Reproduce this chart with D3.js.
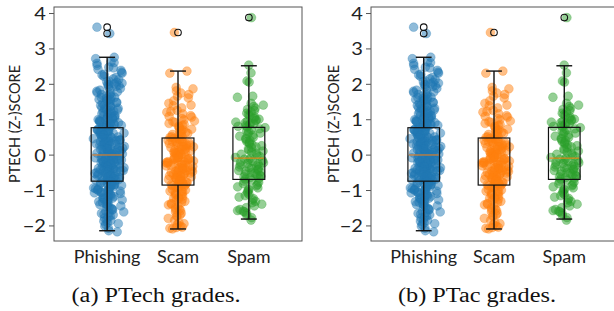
<!DOCTYPE html>
<html><head><meta charset="utf-8">
<script src="https://cdn.jsdelivr.net/npm/d3@7"></script>
<style>html,body{margin:0;padding:0;background:#fff;}svg{display:block;}</style>
</head><body>
<svg id="c" width="614" height="311"></svg>
<script>
// ---------- data ----------
const categories = ["Phishing", "Scam", "Spam"];
const colors = ["#1f77b4", "#ff7f0e", "#2ca02c"];
const yTicks = [-2, -1, 0, 1, 2, 3, 4];
const yLabel = "PTECH (Z-)SCORE";
const captions = ["(a) PTech grades.", "(b) PTac grades."];

// box statistics: [whiskerLow, q1, median, q3, whiskerHigh]
const phishingBox = [-2.15, -0.75, -0.01, 0.76, 2.75];
const scamBox = [-2.10, -0.86, -0.19, 0.47, 2.36];
const spamBox = [-1.82, -0.70, -0.10, 0.77, 2.51];
const phishingFliers = [3.42, 3.60];
const scamFliers = [3.45];
const spamFliers = [3.87];

const phishingValues = [
3.60, 3.42,
2.75, 2.71, 2.62, 2.58, 2.60, 2.52, 2.47, 2.41, 2.38, 2.33, 2.30, 2.27, 2.21, 2.18, 2.14, 2.08, 2.06, 2.04, 2.02, 1.98, 1.97, 1.95,
1.91, 1.87, 1.84, 1.79, 1.77, 1.73, 1.69, 1.66, 1.63, 1.61, 1.58, 1.56, 1.52, 1.51, 1.48, 1.44, 1.43, 1.40, 1.37, 1.36, 1.33, 1.29,
1.28, 1.25, 1.23, 1.21, 1.19, 1.16, 1.15, 1.12, 1.10, 1.09, 1.06, 1.05, 1.03, 1.02, 1.01, 0.99,
0.97, 0.96, 0.94, 0.92, 0.90, 0.88, 0.86, 0.85, 0.83, 0.81, 0.79, 0.78,
0.75, 0.73, 0.72, 0.70, 0.69, 0.68, 0.66, 0.64, 0.63, 0.62, 0.60, 0.58, 0.57, 0.56, 0.54, 0.53, 0.51, 0.50, 0.48, 0.47,
0.46, 0.44, 0.42, 0.41, 0.40, 0.38, 0.37, 0.36, 0.34, 0.33, 0.31, 0.30, 0.29, 0.27, 0.26, 0.25, 0.23, 0.22, 0.20, 0.19,
0.18, 0.16, 0.15, 0.13, 0.12, 0.11, 0.09, 0.08, 0.07, 0.05, 0.04, 0.03, 0.02, 0.01, 0.00, -0.01,
-0.02, -0.03, -0.05, -0.06, -0.08, -0.09, -0.10, -0.12, -0.13, -0.15, -0.16, -0.17, -0.19, -0.20, -0.22, -0.23, -0.24, -0.26,
-0.27, -0.29, -0.30, -0.31, -0.33, -0.34, -0.36, -0.37, -0.38, -0.40, -0.41, -0.43, -0.44, -0.45, -0.47, -0.48, -0.50, -0.51,
-0.52, -0.54, -0.55, -0.57, -0.58, -0.59, -0.61, -0.62, -0.64, -0.65, -0.66, -0.68, -0.69, -0.71, -0.72, -0.73, -0.74,
-0.77, -0.79, -0.80, -0.82, -0.84, -0.86, -0.87, -0.89, -0.91, -0.93, -0.95, -0.96, -0.98, -1.00, -1.02, -1.04, -1.06, -1.08,
-1.10, -1.12, -1.14, -1.16, -1.19, -1.21, -1.23, -1.26, -1.28, -1.31, -1.33, -1.36, -1.39, -1.42, -1.45, -1.48,
-1.52, -1.56, -1.60, -1.64, -1.66, -1.70, -1.74, -1.79, -1.84, -1.88, -1.92, -1.97, -2.02, -2.08, -2.15, -2.18,
1.75, 1.62, 1.54, 1.47, 1.39, 1.31, 1.26, 1.18, 1.11, 1.04, 0.98, 0.93, 0.87, 0.82, 0.77, 0.71, 0.65, 0.61, 0.55, 0.49,
0.45, 0.39, 0.35, 0.28, 0.24, 0.17, 0.14, 0.06, 0.02, -0.04, -0.07, -0.11, -0.14, -0.18, -0.21, -0.25, -0.28, -0.32, -0.35,
-0.39, -0.42, -0.46, -0.49, -0.53, -0.56, -0.60, -0.63, -0.67, -0.70, -0.76, -0.81, -0.85, -0.90, -0.94, -0.99, -1.03, -1.07,
-1.13, -1.18, -1.24, -1.29, -1.35, -1.41, -1.47, -1.55, -1.62, -1.68, -1.76, -1.86, -1.95, 2.25, 2.12, 1.93, 1.82, 1.70,
2.45, 2.00, 1.57
];
const scamValues = [
3.45,
2.36, 2.30, 1.90, 1.86, 1.80, 1.74, 1.65, 1.60, 1.52, 1.45, 1.38, 1.32, 1.25, 1.20, 1.15, 1.10, 1.06, 1.02, 0.98, 0.95,
0.91, 0.88, 0.85, 0.82, 0.78, 0.75, 0.72, 0.70, 0.66, 0.63, 0.60, 0.57, 0.54, 0.51, 0.49,
0.46, 0.44, 0.42, 0.40, 0.38, 0.36, 0.35, 0.33, 0.31, 0.29, 0.27, 0.25, 0.24, 0.22, 0.20, 0.18, 0.16, 0.14, 0.13, 0.11,
0.09, 0.07, 0.05, 0.04, 0.02, 0.00, -0.02, -0.03, -0.05, -0.07, -0.08, -0.10, -0.11, -0.13, -0.14, -0.15, -0.17, -0.18,
-0.20, -0.22, -0.23, -0.25, -0.27, -0.28, -0.30, -0.32, -0.33, -0.35, -0.37, -0.38, -0.40, -0.42, -0.43, -0.45, -0.47, -0.48,
-0.50, -0.52, -0.53, -0.55, -0.57, -0.58, -0.60, -0.62, -0.63, -0.65, -0.67, -0.68, -0.70, -0.72, -0.74, -0.76, -0.78, -0.80,
-0.82, -0.84, -0.85,
-0.88, -0.90, -0.93, -0.95, -0.98, -1.00, -1.03, -1.06, -1.08, -1.11, -1.14, -1.17, -1.20, -1.23, -1.26, -1.29, -1.32, -1.35,
-1.38, -1.42, -1.46, -1.50, -1.54, -1.58, -1.62, -1.66, -1.70, -1.75, -1.80, -1.86, -1.92, -1.98, -2.02, -2.05, -2.08, -2.10,
1.22, 1.08, 0.93, 0.80, 0.68, 0.58, 0.50, 0.43, 0.37, 0.30, 0.23, 0.15, 0.08, 0.01, -0.06, -0.12, -0.21, -0.26, -0.31, -0.36,
-0.41, -0.46, -0.51, -0.56, -0.61, -0.66, -0.71, -0.77, -0.83, -0.92, -1.02, -1.12, -1.25, -1.40, -1.55, -1.72, -1.95, -2.06,
1.70, 1.40
];
const spamValues = [
3.87,
2.53, 2.31, 2.08, 2.05, 1.65, 1.62, 1.45, 1.40, 1.36, 1.31, 1.28, 1.24, 1.20, 1.17, 1.13, 1.10, 1.06, 1.02, 1.00, 0.98,
0.96, 0.94, 0.92, 0.90, 0.88, 0.87, 0.84, 0.82, 0.80, 0.78,
0.76, 0.73, 0.70, 0.67, 0.64, 0.61, 0.58, 0.55, 0.52, 0.49, 0.46, 0.43, 0.40, 0.37, 0.34, 0.31, 0.28, 0.25, 0.22, 0.19,
0.16, 0.13, 0.10, 0.07, 0.04, 0.01, -0.02, -0.05, -0.08,
-0.11, -0.13, -0.15, -0.17, -0.19, -0.21, -0.23, -0.25, -0.27, -0.29, -0.31, -0.33, -0.35, -0.37, -0.39, -0.41, -0.43,
-0.45, -0.47, -0.49, -0.51, -0.53, -0.55, -0.57, -0.59, -0.61, -0.63, -0.65, -0.67, -0.69,
-0.72, -0.75, -0.78, -0.82, -0.85, -0.88, -0.91, -0.94, -0.97, -1.00, -1.04, -1.08, -1.12, -1.16, -1.20, -1.24, -1.28,
-1.32, -1.36, -1.40, -1.45, -1.50, -1.55, -1.58, -1.60, -1.62, -1.66, -1.72, -1.78, -1.85
];

const seriesValues = [phishingValues, scamValues, spamValues];
const boxes = [phishingBox, scamBox, spamBox];
const fliers = [phishingFliers, scamFliers, spamFliers];

// ---------- drawing ----------
const svg = d3.select("#c");
const panels = [
  {left: 54, right: 302, labelX: 14, capX: 156, capW: 169},
  {left: 371, right: 617, labelX: 333, capX: 477, capW: 158}
];
const plotTop = 7, plotBottom = 241;
const y = d3.scaleLinear().domain([-2.44, 4.17]).range([plotBottom, plotTop]);
const font = "Lato, 'Open Sans', sans-serif";

// deterministic integer hash -> [0,1), used only for the horizontal strip-plot spread (layout)
function hash01(i, seed) {
  let h = Math.imul(i + 1, 2654435761) ^ seed;
  h ^= h >>> 15; h = Math.imul(h, 2246822519);
  h ^= h >>> 13; h = Math.imul(h, 3266489917);
  h ^= h >>> 16;
  return (h >>> 0) / 4294967296;
}

panels.forEach((p, pi) => {
  const g = svg.append("g");
  const x = d3.scaleLinear().domain([0.25, 3.75]).range([p.left, p.right]);
  const unit = x(1) - x(0);
  const boxW = 0.45 * unit, capW = 0.225 * unit;

  seriesValues.forEach((vals, ci) => {
    g.append("g").selectAll("circle").data(vals).join("circle")
      .attr("cx", (d, i) => {
        const t = 0.5 * (hash01(i, 101 + ci * 7) + hash01(i, 977 + ci * 13));
        return x(ci + 1.02 + (t - 0.5) * 0.46);
      })
      .attr("cy", d => y(d))
      .attr("r", 4.4)
      .attr("fill", colors[ci])
      .attr("fill-opacity", 0.5)
      .attr("stroke", colors[ci])
      .attr("stroke-opacity", 0.35)
      .attr("stroke-width", 0.8);
  });

  boxes.forEach((b, ci) => {
    const cx = x(ci + 1);
    const bg = g.append("g").attr("stroke", "#111").attr("fill", "none");
    bg.append("rect").attr("x", cx - boxW / 2).attr("y", y(b[3]))
      .attr("width", boxW).attr("height", y(b[1]) - y(b[3])).attr("stroke-width", 1.2);
    bg.append("line").attr("x1", cx).attr("x2", cx).attr("y1", y(b[3])).attr("y2", y(b[4])).attr("stroke-width", 1.4);
    bg.append("line").attr("x1", cx).attr("x2", cx).attr("y1", y(b[1])).attr("y2", y(b[0])).attr("stroke-width", 1.4);
    bg.append("line").attr("x1", cx - capW / 2).attr("x2", cx + capW / 2).attr("y1", y(b[4])).attr("y2", y(b[4])).attr("stroke-width", 1.4);
    bg.append("line").attr("x1", cx - capW / 2).attr("x2", cx + capW / 2).attr("y1", y(b[0])).attr("y2", y(b[0])).attr("stroke-width", 1.4);
    g.append("line").attr("x1", cx - boxW / 2 + 1).attr("x2", cx + boxW / 2 - 1)
      .attr("y1", y(b[2])).attr("y2", y(b[2]))
      .attr("stroke", "#ff7f0e").attr("stroke-opacity", 0.7).attr("stroke-width", 1.4);
    g.append("g").selectAll("circle").data(fliers[ci]).join("circle")
      .attr("cx", cx).attr("cy", d => y(d)).attr("r", 3.3)
      .attr("fill", "none").attr("stroke", "#111").attr("stroke-width", 1.1);
  });

  g.append("rect").attr("x", p.left).attr("y", plotTop)
    .attr("width", p.right - p.left).attr("height", plotBottom - plotTop)
    .attr("fill", "none").attr("stroke", "#555").attr("stroke-width", 1);

  const ax = g.append("g").attr("transform", `translate(${p.left},0)`)
    .call(d3.axisLeft(y).tickValues(yTicks).tickSize(5).tickPadding(3).tickFormat(d3.format("d")));
  ax.select(".domain").remove();
  ax.selectAll("line").attr("stroke", "#555");
  ax.selectAll("text")
    .attr("font-family", font).attr("font-size", 17).attr("fill", "#222")
    .attr("x", null).attr("dy", null)
    .attr("dominant-baseline", "central")
    .attr("transform", "translate(-8,0) scale(1.18,1)");

  g.append("g").selectAll("text").data(categories).join("text")
    .attr("x", (d, i) => x(i + 1)).attr("y", 263)
    .attr("text-anchor", "middle")
    .attr("font-family", font).attr("font-size", 18).attr("fill", "#222")
    .text(d => d);

  g.append("text")
    .attr("transform", `translate(${p.labelX},${(plotTop + plotBottom) / 2}) rotate(-90)`)
    .attr("text-anchor", "middle").attr("dominant-baseline", "central")
    .attr("font-family", font).attr("font-size", 14.5).attr("fill", "#222")
    .text(yLabel);

  svg.append("text")
    .attr("x", p.capX - p.capW / 2).attr("y", 302)
    .attr("textLength", p.capW).attr("lengthAdjust", "spacingAndGlyphs")
    .attr("font-family", "'Liberation Serif', 'Times New Roman', serif")
    .attr("font-size", 20.5).attr("fill", "#111")
    .text(captions[pi]);
});
</script>
</body></html>
